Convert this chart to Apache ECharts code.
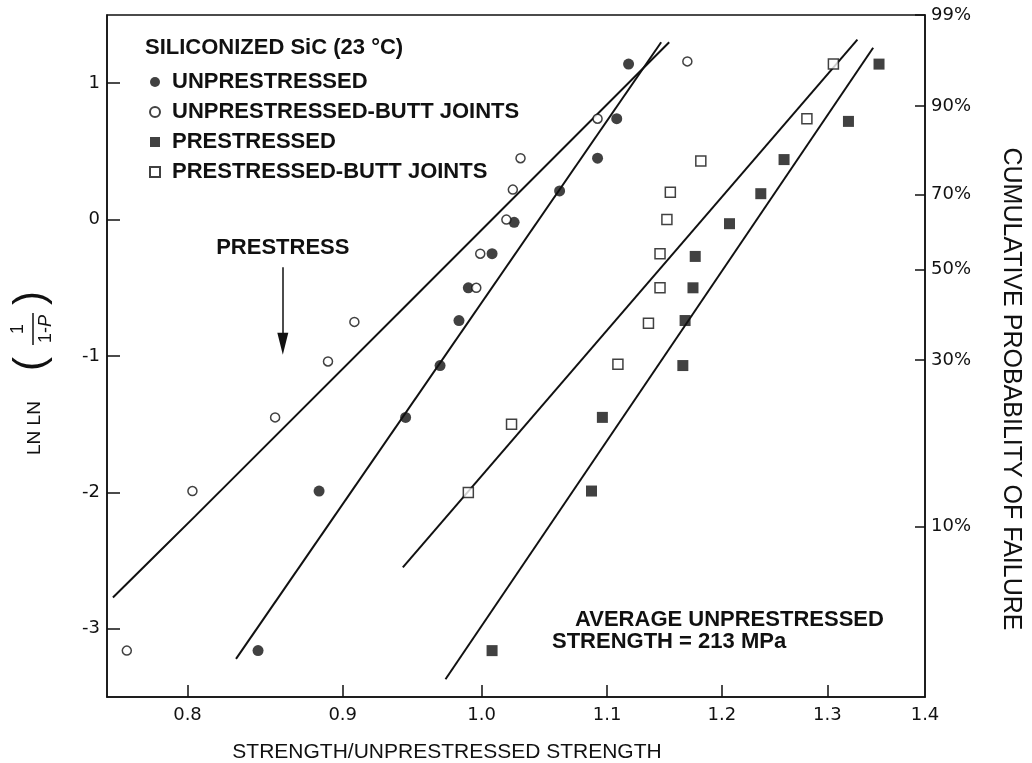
<!DOCTYPE html>
<html>
<head>
<meta charset="utf-8">
<script src="https://cdn.jsdelivr.net/npm/echarts@6/dist/echarts.min.js"></script>
<style>
html, body { margin: 0; padding: 0; background: #fff; }
#main { width: 1032px; height: 763px; }
</style>
</head>
<body>
<div id="main"></div>
<script>
var myChart = echarts.init(document.getElementById('main'));

// strength / unprestressed strength (x) and ln ln(1/(1-P)) (y)
var unpreX = [0.844, 0.884, 0.944, 0.969, 0.983, 0.990, 1.008, 1.025, 1.061, 1.092, 1.108, 1.118];
var unpreY = [-3.16, -1.99, -1.45, -1.07, -0.74, -0.50, -0.25, -0.02, 0.21, 0.45, 0.74, 1.14];

var unpreButtX = [0.764, 0.803, 0.855, 0.890, 0.908, 0.996, 0.999, 1.019, 1.024, 1.030, 1.092, 1.169];
var unpreButtY = [-3.16, -1.99, -1.45, -1.04, -0.75, -0.50, -0.25, 0.00, 0.22, 0.45, 0.74, 1.16];

var preX = [1.008, 1.087, 1.096, 1.165, 1.167, 1.174, 1.176, 1.207, 1.236, 1.258, 1.321, 1.352];
var preY = [-3.16, -1.99, -1.45, -1.07, -0.74, -0.50, -0.27, -0.03, 0.19, 0.44, 0.72, 1.14];

var preButtX = [0.990, 1.023, 1.109, 1.135, 1.145, 1.145, 1.151, 1.154, 1.181, 1.280, 1.306];
var preButtY = [-2.00, -1.50, -1.06, -0.76, -0.50, -0.25, 0.00, 0.20, 0.43, 0.74, 1.14];

// fitted lines
var fitUnpreButtX = [0.756, 0.805, 1.153];
var fitUnpreButtY = [-2.77, -2.17, 1.30];
var fitUnpreX = [0.830, 1.146];
var fitUnpreY = [-3.22, 1.30];
var fitPreButtX = [0.942, 1.330];
var fitPreButtY = [-2.55, 1.32];
var fitPreX = [0.973, 1.346];
var fitPreY = [-3.37, 1.26];

// prestress arrow
var prestressX = 0.860;
var arrowY = [-0.35, -0.91];

// axes
var xTicks = [0.8, 0.9, 1.0, 1.1, 1.2, 1.3, 1.4];
var yTicks = [-3, -2, -1, 0, 1];
var probTicks = [10, 30, 50, 70, 90, 99];
var xMin = 0.7526, xMax = 1.4;
var yMin = -3.5, yMax = 1.5;

function pts(xs, ys) {
    return xs.map(function (v, i) { return [Math.log(v), ys[i]]; });
}
function lnln(p) {
    return Math.log(-Math.log(1 - p / 100));
}

var font = 'Liberation Sans';
var tickFont = 'DejaVu Sans';
var black = '#111';

function fitLine(xs, ys, extra) {
    var s = {
        type: 'line',
        data: pts(xs, ys),
        showSymbol: false,
        symbol: 'none',
        silent: true,
        smooth: 0.3,
        lineStyle: { color: black, width: 2 },
        z: 1
    };
    if (extra) Object.assign(s, extra);
    return s;
}

var probValues = probTicks.map(function (p) { return Math.min(lnln(p), yMax); });

var option = {
    backgroundColor: '#fff',
    animation: false,
    title: {
        text: 'SILICONIZED SiC (23 °C)',
        left: 145,
        top: 37,
        padding: 0,
        textStyle: { fontFamily: font, fontSize: 22, fontWeight: 'bold', color: black, lineHeight: 22 }
    },
    legend: {
        orient: 'vertical',
        left: 149,
        top: 71,
        padding: 0,
        itemGap: 8,
        itemWidth: 10,
        itemHeight: 10,
        selectedMode: false,
        data: ['UNPRESTRESSED', 'UNPRESTRESSED-BUTT JOINTS', 'PRESTRESSED', 'PRESTRESSED-BUTT JOINTS'],
        textStyle: {
            fontFamily: font, fontSize: 22, fontWeight: 'bold', color: black,
            lineHeight: 22, padding: [0, 0, 0, 7]
        }
    },
    grid: {
        left: 107, right: 107, top: 15, bottom: 66,
        show: true, borderColor: black, borderWidth: 1.5
    },
    xAxis: {
        type: 'value',
        min: Math.log(xMin),
        max: Math.log(xMax),
        axisLine: { onZero: false, lineStyle: { color: black, width: 1.5 } },
        axisTick: {
            inside: true, length: 12,
            customValues: xTicks.slice(0, 6).map(Math.log),
            lineStyle: { color: black, width: 1.5 }
        },
        axisLabel: {
            customValues: xTicks.map(Math.log),
            margin: 9,
            formatter: function (v) { return Math.exp(v).toFixed(1); },
            fontFamily: tickFont, fontSize: 18, color: black
        },
        splitLine: { show: false }
    },
    yAxis: [{
        type: 'value',
        min: yMin, max: yMax,
        axisLine: { show: true, onZero: false, lineStyle: { color: black, width: 1.5 } },
        axisTick: {
            show: true, inside: true, length: 13,
            customValues: yTicks,
            lineStyle: { color: black, width: 1.5 }
        },
        axisLabel: {
            customValues: yTicks,
            margin: 7,
            formatter: function (v) { return String(v); },
            fontFamily: tickFont, fontSize: 18, color: black
        },
        splitLine: { show: false }
    }, {
        type: 'value',
        position: 'right',
        min: yMin, max: yMax,
        axisLine: { show: true, onZero: false, lineStyle: { color: black, width: 1.5 } },
        axisTick: {
            show: true, inside: true, length: 10,
            customValues: probValues,
            lineStyle: { color: black, width: 1.5 }
        },
        axisLabel: {
            customValues: probValues,
            margin: 6,
            formatter: function (v) {
                return Math.round(100 * (1 - Math.exp(-Math.exp(v)))) + '%';
            },
            fontFamily: tickFont, fontSize: 18, color: black
        },
        splitLine: { show: false }
    }],
    series: [
        fitLine(fitUnpreButtX, fitUnpreButtY, {
            markLine: {
                silent: true,
                symbol: ['none', 'triangle'],
                symbolSize: [0, 12],
                lineStyle: { color: black, width: 1.5, type: 'solid' },
                label: {
                    show: true, position: 'start', distance: 8,
                    formatter: 'PRESTRESS',
                    fontFamily: font, fontSize: 22, fontWeight: 'bold', color: black
                },
                data: [[
                    { coord: [Math.log(prestressX), arrowY[0]] },
                    { coord: [Math.log(prestressX), arrowY[1]], symbolSize: [11, 22] }
                ]]
            }
        }),
        fitLine(fitUnpreX, fitUnpreY),
        fitLine(fitPreButtX, fitPreButtY),
        fitLine(fitPreX, fitPreY),
        {
            name: 'UNPRESTRESSED',
            type: 'scatter',
            symbol: 'circle',
            symbolSize: 11,
            itemStyle: { color: black },
            data: pts(unpreX, unpreY)
        },
        {
            name: 'UNPRESTRESSED-BUTT JOINTS',
            type: 'scatter',
            symbol: 'circle',
            symbolSize: 9,
            itemStyle: { color: '#fff', borderColor: black, borderWidth: 1.5 },
            data: pts(unpreButtX, unpreButtY)
        },
        {
            name: 'PRESTRESSED',
            type: 'scatter',
            symbol: 'rect',
            symbolSize: 11,
            itemStyle: { color: black },
            data: pts(preX, preY)
        },
        {
            name: 'PRESTRESSED-BUTT JOINTS',
            type: 'scatter',
            symbol: 'rect',
            symbolSize: 10,
            itemStyle: { color: '#fff', borderColor: black, borderWidth: 1.5 },
            data: pts(preButtX, preButtY)
        }
    ],
    graphic: [
        {
            type: 'text', left: 575, top: 609,
            style: { text: 'AVERAGE UNPRESTRESSED', fontFamily: font, fontSize: 22, fontWeight: 'bold', fill: black }
        },
        {
            type: 'text', left: 552, top: 631,
            style: { text: 'STRENGTH = 213 MPa', fontFamily: font, fontSize: 22, fontWeight: 'bold', fill: black }
        },
        {
            type: 'text', x: 447, y: 752,
            style: {
                text: 'STRENGTH/UNPRESTRESSED STRENGTH', fontFamily: font, fontSize: 21,
                fill: black, align: 'center', verticalAlign: 'middle'
            }
        },
        {
            type: 'text', x: 1011, y: 389, rotation: -Math.PI / 2,
            style: {
                text: 'CUMULATIVE PROBABILITY OF FAILURE', fontFamily: font, fontSize: 25,
                fill: black, align: 'center', verticalAlign: 'middle'
            }
        },
        {
            // left axis title: LN LN (1 / 1-P), reads bottom to top
            type: 'group', x: 33, y: 455, rotation: Math.PI / 2,
            children: [
                { type: 'text', x: 0, y: 2, style: { text: 'LN LN', fontFamily: font, fontSize: 19, fill: black, align: 'left', verticalAlign: 'middle' } },
                { type: 'text', x: 91, y: -2, style: { text: '(', fontFamily: font, fontSize: 42, fill: black, align: 'center', verticalAlign: 'middle' } },
                { type: 'text', x: 126, y: -15, style: { text: '1', fontFamily: font, fontSize: 18, fill: black, align: 'center', verticalAlign: 'middle' } },
                { type: 'line', shape: { x1: 110, y1: 0, x2: 142, y2: 0 }, style: { stroke: black, lineWidth: 1.5 } },
                {
                    type: 'text', x: 126, y: 13,
                    style: {
                        text: '{a|1-}{b|P}', align: 'center', verticalAlign: 'middle',
                        rich: {
                            a: { fontFamily: font, fontSize: 18, fill: black },
                            b: { fontFamily: font, fontSize: 18, fontStyle: 'italic', fill: black }
                        }
                    }
                },
                { type: 'text', x: 157, y: -2, style: { text: ')', fontFamily: font, fontSize: 42, fill: black, align: 'center', verticalAlign: 'middle' } }
            ]
        }
    ]
};
myChart.setOption(option);
</script>
</body>
</html>
